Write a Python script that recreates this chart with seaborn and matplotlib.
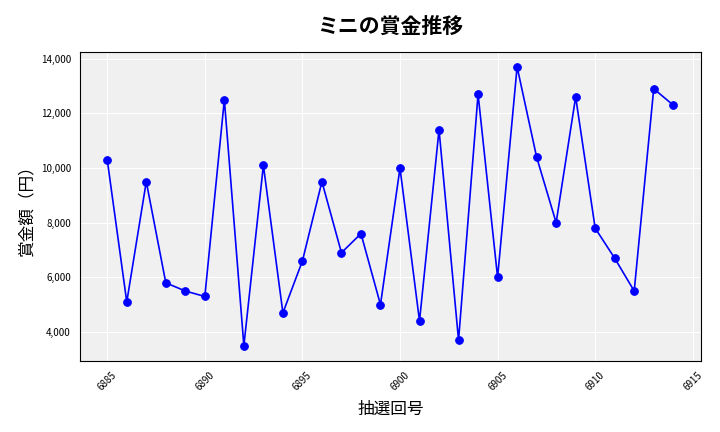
import matplotlib
matplotlib.use("Agg")
import matplotlib.pyplot as plt
import seaborn as sns
import pandas as pd
from matplotlib.ticker import FuncFormatter

draws = list(range(6885, 6915))
prizes = [10300, 5100, 9500, 5800, 5500, 5300, 12500, 3500, 10100, 4700,
          6600, 9500, 6900, 7600, 5000, 10000, 4400, 11400, 3700, 12700,
          6000, 13700, 10400, 8000, 12600, 7800, 6700, 5500, 12900, 12300]

sns.set_style("whitegrid")
plt.rcParams['font.family'] = ['Noto Sans CJK JP', 'DejaVu Sans']

df = pd.DataFrame({"draw": draws, "prize": prizes})
fig, ax = plt.subplots(figsize=(7.2, 4.32), dpi=100)
ax.set_facecolor("#f0f0f0")
sns.lineplot(data=df, x="draw", y="prize", color="blue", marker="o",
             markersize=5.5, markeredgecolor="blue", linewidth=1.2, ax=ax)
ax.set_xlim(6883.6, 6915.4)
ax.set_ylim(2950, 14250)
ax.grid(color="white", linewidth=0.8)
for s in ax.spines.values():
    s.set_color("black"); s.set_linewidth(0.8)
ax.yaxis.set_major_formatter(FuncFormatter(lambda v, p: f"{int(v):,}"))
ax.tick_params(axis="x", labelrotation=45, labelsize=7, length=3, colors="black")
ax.tick_params(axis="y", labelsize=7, length=3, colors="black")
ax.set_xlabel("抽選回号", fontsize=12, labelpad=6, color="black")
ax.set_ylabel("賞金額（円）", fontsize=12, color="black")
ax.set_title("ミニの賞金推移", fontsize=15, fontweight="bold", pad=14, color="black")
fig.subplots_adjust(left=0.111, right=0.973, top=0.88, bottom=0.165)
fig.savefig("out.png", dpi=100)
